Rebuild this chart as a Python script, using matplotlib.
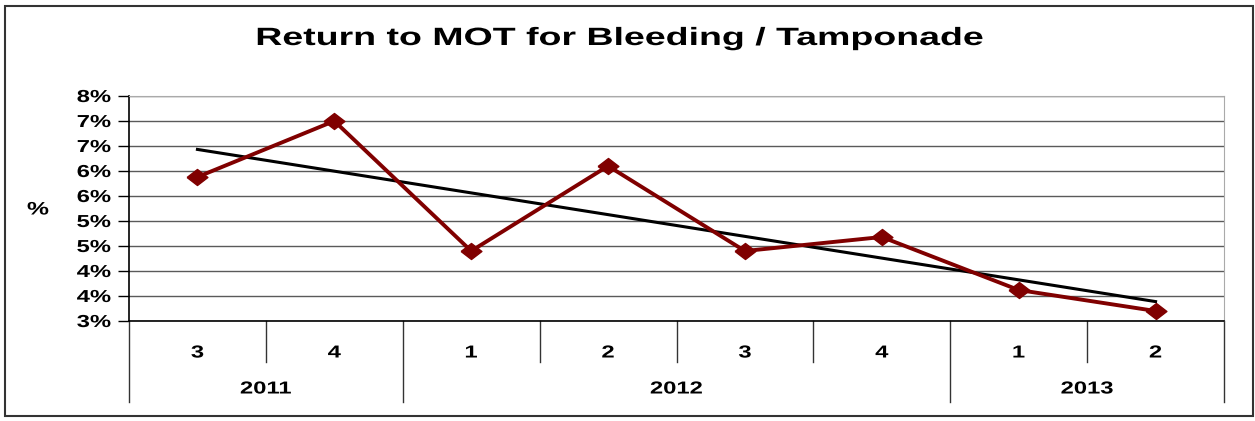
import matplotlib.pyplot as plt
import numpy as np
from matplotlib.ticker import FuncFormatter
from matplotlib.patheffects import AbstractPathEffect
from matplotlib.transforms import Affine2D

plt.rcParams['font.family'] = ['Liberation Sans', 'DejaVu Sans']

quarters = ['3', '4', '1', '2', '3', '4', '1', '2']
years = ['2011', '2012', '2013']
year_spans = [2, 4, 2]
values = [5.88, 7.0, 4.4, 6.1, 4.4, 4.68, 3.62, 3.2]
y_ticks = [3.0, 3.5, 4.0, 4.5, 5.0, 5.5, 6.0, 6.5, 7.0, 7.5]


class HStretch(AbstractPathEffect):
    # widen the glyphs horizontally, keeping the alignment point fixed
    def __init__(self, sx, frac):
        super().__init__()
        self.sx = sx
        self.frac = frac

    def draw_path(self, renderer, gc, tpath, affine, rgbFace=None):
        ext = tpath.get_extents(affine)
        a = ext.x0 + self.frac * ext.width
        new = affine + Affine2D().translate(-a, 0).scale(self.sx, 1).translate(a, 0)
        renderer.draw_path(gc, tpath, new, rgbFace)


W, H = 1255, 421
fig = plt.figure(figsize=(W / 100, H / 100), dpi=100, facecolor='white')

# outer frame
fig.patches.append(plt.Rectangle((5 / W, 5 / H), 1248 / W, 410 / H, transform=fig.transFigure,
                                 fill=False, edgecolor='#333333', linewidth=1.5))

ax = fig.add_axes([129 / W, (H - 321) / H, (1224 - 129) / W, (321 - 96) / H])

x = np.arange(1, len(values) + 1)
ax.set_xlim(0.5, len(values) + 0.5)
ax.set_ylim(y_ticks[0], y_ticks[-1])

ax.set_yticks(y_ticks)
ax.yaxis.set_major_formatter(FuncFormatter(lambda v, p: f'{int(np.floor(v + 0.5))}%'))
ax.grid(axis='y', color='#5a5a5a', linewidth=1.0)
ax.set_axisbelow(True)
ax.tick_params(axis='y', labelsize=12.5, length=8, width=1, color='black', pad=5)
ax.tick_params(axis='x', bottom=False, labelbottom=False)
for lbl in ax.get_yticklabels():
    lbl.set_fontweight('bold')
    lbl.set_path_effects([HStretch(1.37, 1.0)])

ax.spines['left'].set_color('black')
ax.spines['left'].set_linewidth(1.2)
ax.spines['bottom'].set_color('black')
ax.spines['bottom'].set_linewidth(1.2)
ax.spines['top'].set_color('#aaaaaa')
ax.spines['right'].set_color('#aaaaaa')

# slightly wide diamond, as in the original
diamond = [(-1.3, 0), (0, 1), (1.3, 0), (0, -1), (-1.3, 0)]
ax.plot(x, values, color='#800000', linewidth=2.8, marker=diamond, markersize=15, zorder=3)

# linear trend line
k, b = np.polyfit(x, values, 1)
ax.plot(x, k * x + b, color='black', linewidth=2.2, zorder=2)

fig.text(38 / W, (H - 210) / H, '%', fontsize=13, fontweight='bold', ha='center', va='center',
         path_effects=[HStretch(1.37, 0.5)])

# category axis (quarter / year)
trans = ax.get_xaxis_transform()
ax_h = 321 - 96
short = -(362 - 321) / ax_h
long_ = -(402 - 321) / ax_h
q_y = -(353 - 321) / ax_h
yr_y = -(389 - 321) / ax_h

for i, q in enumerate(quarters):
    ax.text(x[i], q_y, q, transform=trans, ha='center', va='center', fontsize=12.5,
            fontweight='bold', path_effects=[HStretch(1.37, 0.5)])

bounds = np.cumsum([0] + year_spans)
for j in range(len(quarters) + 1):
    xb = j + 0.5
    bottom = long_ if j in bounds else short
    ax.plot([xb, xb], [0, bottom], transform=trans, color='#333333', linewidth=1, clip_on=False)

for yname, s, e in zip(years, bounds[:-1], bounds[1:]):
    ax.text((s + e) / 2 + 0.5, yr_y, yname, transform=trans, ha='center', va='center',
            fontsize=12.5, fontweight='bold', path_effects=[HStretch(1.37, 0.5)])

fig.text(620 / W, (H - 38) / H, 'Return to MOT for Bleeding / Tamponade', ha='center', va='center',
         fontsize=18, fontweight='bold', path_effects=[HStretch(1.5, 0.5)])

fig.savefig('out.png', dpi=100, facecolor='white')
